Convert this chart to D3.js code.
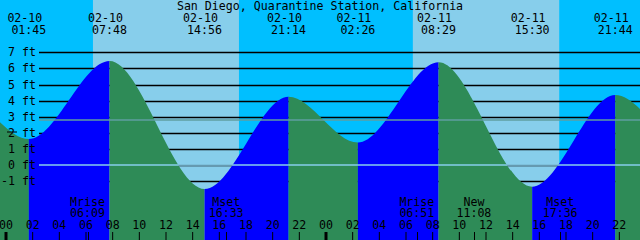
<!DOCTYPE html>
<html>
<head>
<meta charset="utf-8">
<script src="https://cdn.jsdelivr.net/npm/d3@7"></script>
<style>
html, body { margin: 0; padding: 0; background: #fff; }
svg { display: block; }
text { font-family: "DejaVu Sans Mono", monospace; font-size: 11.6px; fill: #000; }
</style>
</head>
<body>
<div id="chart"></div>
<script>
// hours are counted from 02-10 00:00
var tide_hours   = [-9.67, -3.33, 1.75, 7.80, 14.93, 21.23, 26.43, 32.48, 39.50, 45.73, 51.10, 57.20];
var tide_heights = [-1.60, 4.30, 1.61, 6.46, -1.49, 4.24, 1.39, 6.38, -1.35, 4.35, 1.20, 6.30];
var tide_dates   = ["02-09", "02-09", "02-10", "02-10", "02-10", "02-10", "02-11", "02-11", "02-11", "02-11", "02-12", "02-12"];
var tide_times   = ["14:20", "20:40", "01:45", "07:48", "14:56", "21:14", "02:26", "08:29", "15:30", "21:44", "03:06", "09:12"];

var sun_rise = [6.56, 30.55];
var sun_set  = [17.51, 41.53];

var moon_hours  = [6.15, 16.55, 30.85, 35.13, 41.60];
var moon_names  = ["Mrise", "Mset", "Mrise", "New", "Mset"];
var moon_times  = ["06:09", "16:33", "06:51", "11:08", "17:36"];

var ft_levels = [7, 6, 5, 4, 3, 2, 1, 0, -1];
var mean_level = 2.8;
var hour_ticks = d3.range(0, 48, 2);

var title = "San Diego, Quarantine Station, California";

var width = 640, height = 240;
var x = d3.scaleLinear().domain([-0.4125, 47.5875]).range([0, width]);
var y = d3.scaleLinear().domain([0, 7]).range([165, 52.3]);

var svg = d3.select("#chart").append("svg")
    .attr("width", width)
    .attr("height", height);

// sky, night and day
svg.append("rect").attr("x", 0).attr("y", 0).attr("width", width).attr("height", height).attr("fill", "#00BFFF");
for(var i = 0; i < sun_rise.length; i++)
{
    svg.append("rect")
        .attr("x", x(sun_rise[i]))
        .attr("y", 0)
        .attr("width", x(sun_set[i]) - x(sun_rise[i]))
        .attr("height", height)
        .attr("fill", "#87CEEB");
}

// grid lines (under the water)
svg.selectAll("line.grid").data(ft_levels).enter().append("line")
    .attr("class", "grid")
    .attr("x1", 39).attr("x2", width)
    .attr("y1", function(d){ return Math.round(y(d)) + 0.5; })
    .attr("y2", function(d){ return Math.round(y(d)) + 0.5; })
    .attr("stroke", "#000")
    .attr("stroke-width", 1.5);

// water
var tide_data = tide_hours.map(function(h, i){ return {h: h, v: tide_heights[i]}; });
var area = d3.area()
    .x(function(d){ return x(d.h); })
    .y0(height)
    .y1(function(d){ return y(d.v); })
    .curve(d3.curveMonotoneX);

var defs = svg.append("defs");
for(var i = 0; i < tide_data.length - 1; i++)
{
    var x0 = x(tide_data[i].h), x1 = x(tide_data[i + 1].h);
    defs.append("clipPath").attr("id", "seg" + i)
        .append("rect")
        .attr("x", x0).attr("y", 0)
        .attr("width", x1 - x0).attr("height", height);

    var rising = tide_data[i + 1].v > tide_data[i].v;
    svg.append("path")
        .datum(tide_data)
        .attr("d", area)
        .attr("clip-path", "url(#seg" + i + ")")
        .attr("fill", rising ? "#0000FF" : "#2E8B57");
}

// zero and mean level lines
svg.append("line")
    .attr("x1", 39).attr("x2", width)
    .attr("y1", y(0)).attr("y2", y(0))
    .attr("stroke", "#87CEEB").attr("stroke-width", 1.5);
svg.append("line")
    .attr("x1", 39).attr("x2", width)
    .attr("y1", y(mean_level)).attr("y2", y(mean_level))
    .attr("stroke", "#5F9EA0").attr("stroke-width", 1.5);

// ft labels
svg.selectAll("text.ft").data(ft_levels).enter().append("text")
    .attr("class", "ft")
    .attr("x", 36)
    .attr("y", function(d){ return y(d) + 4; })
    .attr("text-anchor", "end")
    .text(function(d){ return d + " ft"; });

svg.append("line")
    .attr("x1", 7).attr("x2", 17)
    .attr("y1", 132).attr("y2", 132)
    .attr("stroke", "#000").attr("stroke-width", 1);

// title
svg.append("text")
    .attr("x", width / 2).attr("y", 9.5)
    .attr("text-anchor", "middle")
    .text(title);

// tide extreme labels
var shown = tide_data.map(function(d, i){ return i; }).filter(function(i){
    return tide_hours[i] > x.domain()[0] && tide_hours[i] < x.domain()[1];
});
shown.forEach(function(i)
{
    var px = x(tide_hours[i]);
    svg.append("text").attr("x", px - 4).attr("y", 21.5)
        .attr("text-anchor", "middle").text(tide_dates[i]);
    svg.append("text").attr("x", px).attr("y", 33.5)
        .attr("text-anchor", "middle").text(tide_times[i]);
});

// hour axis
var axis = d3.axisTop(x)
    .tickValues(hour_ticks)
    .tickSize(8)
    .tickPadding(3)
    .tickFormat(function(d){ return d3.format("02d")(d % 24); });

var g_axis = svg.append("g").attr("transform", "translate(0," + height + ")").call(axis);
g_axis.select(".domain").remove();
g_axis.selectAll(".tick line")
    .attr("stroke", "#000")
    .attr("stroke-width", function(d){ return d % 24 == 0 ? 3 : 1; });
g_axis.selectAll(".tick text")
    .attr("fill", "#000")
    .style("font-family", "DejaVu Sans Mono, monospace")
    .style("font-size", "11.6px");

// moon events
moon_hours.forEach(function(h, i)
{
    var px = x(h);
    svg.append("line")
        .attr("x1", Math.round(px) + 0.5).attr("x2", Math.round(px) + 0.5)
        .attr("y1", height - 8).attr("y2", height)
        .attr("stroke", "#000");
    svg.append("text").attr("x", px).attr("y", 206)
        .attr("text-anchor", "middle").text(moon_names[i]);
    svg.append("text").attr("x", px).attr("y", 217)
        .attr("text-anchor", "middle").text(moon_times[i]);
});
</script>
</body>
</html>
